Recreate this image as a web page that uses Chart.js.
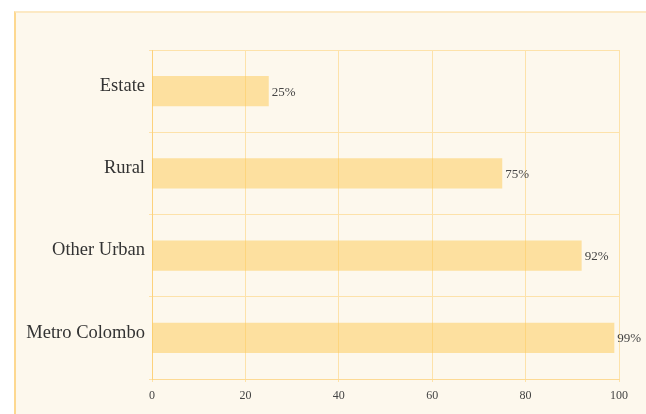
<!DOCTYPE html>
<html>
<head>
<meta charset="utf-8">
<script src="https://cdn.jsdelivr.net/npm/chart.js@4.4.1/dist/chart.umd.min.js"></script>
<style>
  html, body { margin: 0; padding: 0; background: #ffffff; }
  #panel {
    position: absolute;
    left: 14px;
    top: 11px;
    width: 630px;
    height: 401px;
    background: #fdf8ed;
    border-top: 2px solid #fce9c4;
    border-left: 2px solid #fdd890;
  }
  #wrap { position: relative; width: 630px; height: 401px; }
</style>
</head>
<body>
<div id="panel">
  <div id="wrap"><canvas id="access-chart"></canvas></div>
</div>
<script>
"use strict";

var sectors = ["Estate", "Rural", "Other Urban", "Metro Colombo"];
var accessShare = [25, 75, 92, 99];
var xTicks = [0, 20, 40, 60, 80, 100];

var serif = "'Palatino Linotype', 'Book Antiqua', Palatino, 'Liberation Serif', serif";

// writes "NN%" just past the end of each bar
var valueLabels = {
  id: "valueLabels",
  afterDatasetsDraw: function(chart) {
    var ctx = chart.ctx;
    var meta = chart.getDatasetMeta(0);
    ctx.save();
    ctx.font = "13px " + serif;
    ctx.fillStyle = "#444444";
    ctx.textAlign = "left";
    ctx.textBaseline = "middle";
    meta.data.forEach(function(bar, i) {
      ctx.fillText(accessShare[i] + "%", bar.x + 3, bar.y + 1);
    });
    ctx.restore();
  }
};

function renderAccessChart() {
  var elem = document.getElementById("access-chart").getContext("2d");
  new Chart(elem, {
    type: "bar",
    data: {
      labels: sectors,
      datasets: [
        {
          data: accessShare,
          backgroundColor: "rgba(253, 200, 81, 0.5)",
          borderWidth: 0,
          barPercentage: 0.92,
          categoryPercentage: 0.4
        }
      ]
    },
    options: {
      indexAxis: "y",
      responsive: true,
      maintainAspectRatio: false,
      animation: false,
      layout: { padding: { top: 37, right: 27, left: 0, bottom: 0 } },
      plugins: {
        legend: { display: false },
        tooltip: { enabled: false }
      },
      scales: {
        x: {
          min: 0,
          max: 100,
          afterBuildTicks: function(scale) {
            scale.ticks = xTicks.map(function(v) { return { value: v }; });
          },
          afterFit: function(scale) { scale.height = 35; },
          grid: { color: "#fde2aa", tickLength: 3 },
          border: { color: "#fdda94" },
          ticks: {
            color: "#444444",
            padding: 7,
            font: { family: serif, size: 12 }
          }
        },
        y: {
          afterFit: function(scale) { scale.width = 136; },
          grid: { color: "#fde2aa", tickLength: 3 },
          border: { color: "#fdd27c" },
          ticks: {
            color: "#333333",
            padding: 4,
            labelOffset: -5,
            font: { family: serif, size: 18.5 }
          }
        }
      }
    },
    plugins: [valueLabels]
  });
}

renderAccessChart();
</script>
</body>
</html>
